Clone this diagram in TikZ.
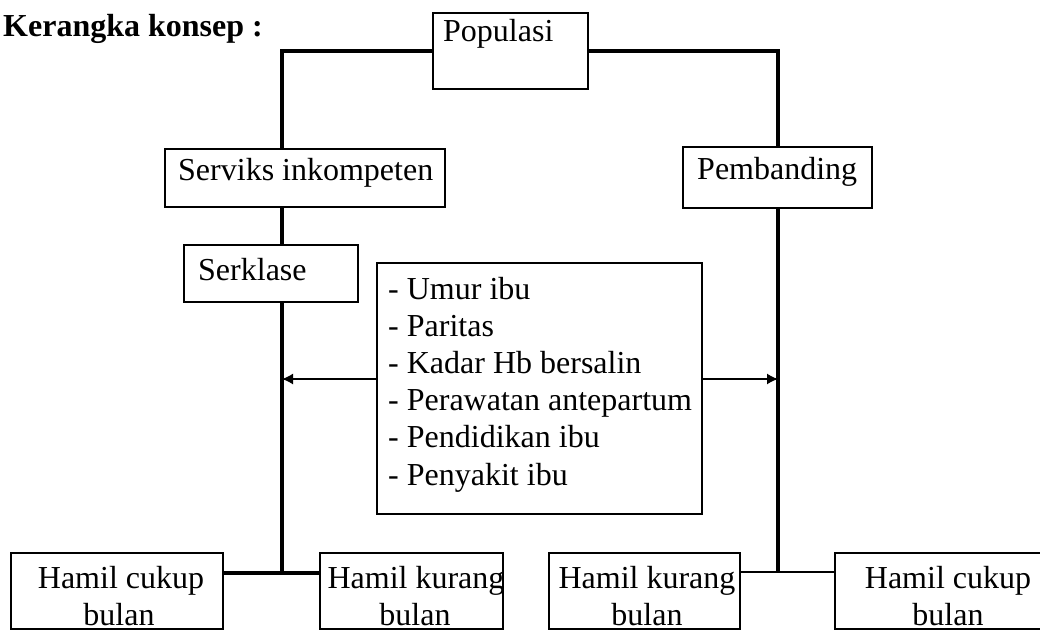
\documentclass[tikz,border=0pt]{standalone}
\usepackage{fontspec}
\setmainfont{Liberation Serif}
\usetikzlibrary{arrows.meta}
\newcommand\fsz{\fontsize{32}{37}\selectfont}
\begin{document}
\begin{tikzpicture}[x=1pt,y=-1pt,
  box/.style={draw, line width=1.4pt, inner sep=0pt, rectangle},
  lbl/.style={anchor=base west, inner sep=0pt, font=\fsz},
  clbl/.style={anchor=base, inner sep=0pt, font=\fsz},
  conn/.style={line width=3.5pt},
  connthin/.style={line width=2.2pt},
  arr/.style={line width=1.5pt, -{Latex[length=11pt,width=11pt]}}]
\useasboundingbox (0,0) rectangle (1040,630);
\fill[white] (0,0) rectangle (1040,630);

% title
\node[lbl, font=\fsz\bfseries] (title) at (3,36) {Kerangka konsep :};

% boxes
\node[box, minimum width=155pt, minimum height=76pt] (pop) at (510.5,51) {};
\node[box, minimum width=280pt, minimum height=58pt] (serv) at (305,178) {};
\node[box, minimum width=189pt, minimum height=61pt] (pemb) at (777.5,177.5) {};
\node[box, minimum width=174pt, minimum height=57pt] (serk) at (271,273.5) {};
\node[box, minimum width=325pt, minimum height=251pt] (mid) at (539.5,388.5) {};
\node[box, minimum width=212pt, minimum height=76pt] (b1) at (117,591) {};
\node[box, minimum width=183pt, minimum height=76pt] (b2) at (411.5,591) {};
\node[box, minimum width=191pt, minimum height=76pt] (b3) at (644.5,591) {};
\node[box, minimum width=215pt, minimum height=76pt] (b4) at (942.5,591) {};

% texts
\node[lbl] (tpop) at (443,41) {Populasi};
\node[lbl] (tserv) at (178,180) {Serviks inkompeten};
\node[lbl] (tpemb) at (697,179) {Pembanding};
\node[lbl] (tserk) at (198,280) {Serklase};
\foreach \i/\t in {1/Umur ibu, 2/Paritas, 3/Kadar Hb bersalin, 4/Perawatan antepartum, 5/Pendidikan ibu, 6/Penyakit ibu}
  \node[lbl] (l\i) at (388,{299+37.2*(\i-1)}) {- \t};
\node[clbl] (t1a) at (121,588) {Hamil cukup};
\node[clbl] (t1b) at (119,625) {bulan};
\node[clbl] (t2a) at (416,588) {Hamil kurang};
\node[clbl] (t2b) at (415,625) {bulan};
\node[clbl] (t3a) at (647,588) {Hamil kurang};
\node[clbl] (t3b) at (647,625) {bulan};
\node[clbl] (t4a) at (948,588) {Hamil cukup};
\node[clbl] (t4b) at (948,625) {bulan};

% reference coordinates
\coordinate (xL) at (282,0);
\coordinate (xR) at (778,0);
\coordinate (jL) at (282,573);
\coordinate (jR) at (778,572);
\coordinate (aL) at (282,379);
\coordinate (aR) at (778,379);

% connectors
\draw[conn] (pop.west) -| (xL |- serv.north);
\draw[conn] (pop.east) -| (xR |- pemb.north);
\draw[conn] (xL |- serv.south) -- (xL |- serk.north);
\draw[conn] (xL |- serk.south) -- (jL);
\draw[conn] (xR |- pemb.south) -- (jR);
\draw[conn] (b1.east |- jL) -- (b2.west |- jL);
\draw[connthin] (b3.east |- jR) -- (b4.west |- jR);
\draw[arr] (aL -| mid.west) -- (aL);
\draw[arr] (aR -| mid.east) -- (aR);
\end{tikzpicture}
\end{document}
